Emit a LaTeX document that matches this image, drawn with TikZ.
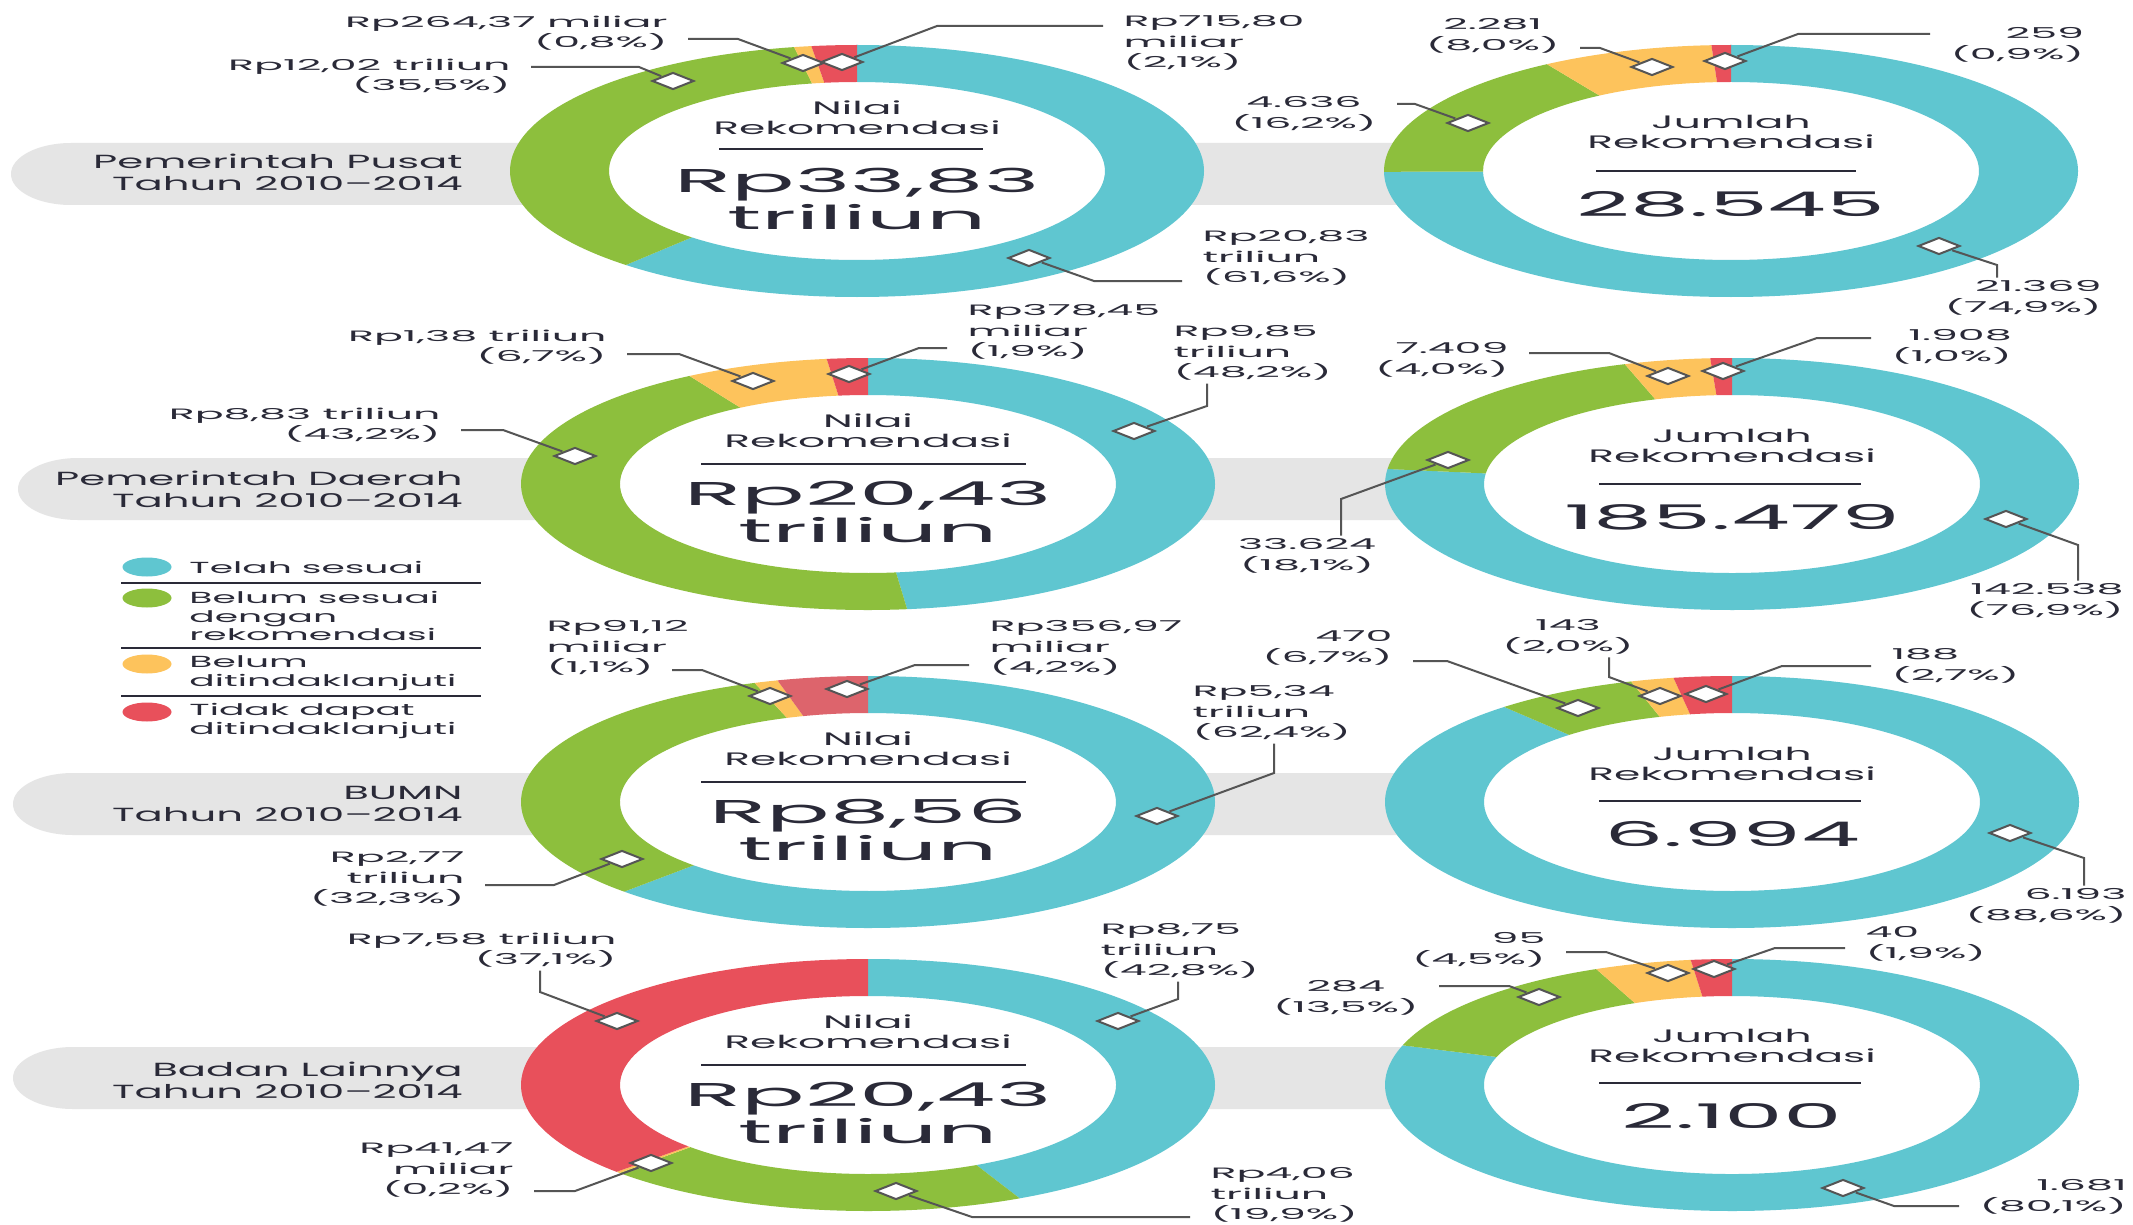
\documentclass[tikz,border=0pt]{standalone}
\usepackage{fontspec}
\setmainfont{Poppins}
\usetikzlibrary{shapes.geometric,calc}

\definecolor{telah}{HTML}{5FC6D0}
\definecolor{belum}{HTML}{8DBF3D}
\definecolor{tindak}{HTML}{FDC35C}
\definecolor{tidak}{HTML}{E8505B}
\definecolor{tidakb}{HTML}{DD646C}
\definecolor{bandc}{HTML}{E5E5E5}
\definecolor{ink}{HTML}{2A2A38}
\definecolor{leadc}{HTML}{555555}

\newcommand{\seg}[4]{%
  \fill[#4] ($(#1)+(#2:347 and 126)$) arc[start angle=#2, end angle=#3, x radius=347, y radius=126]
    -- ($(#1)+(#3:248 and 89)$) arc[start angle=#3, end angle=#2, x radius=248, y radius=89] -- cycle;}
\newcommand{\donut}[6]{%
  \pgfmathsetmacro\aB{-90+3.6*#2}
  \pgfmathsetmacro\aC{\aB+3.6*#3}
  \pgfmathsetmacro\aD{\aC+3.6*#4}
  \seg{#1}{-90}{\aB}{telah}
  \seg{#1}{\aB}{\aC}{belum}
  \seg{#1}{\aC}{\aD}{tindak}
  \seg{#1}{\aD}{270}{#6}}
\newcommand{\rowband}[2]{%
  \fill[bandc] (1420,#1) -- (#2+60,#1) arc[start angle=-90, end angle=-270, x radius=60, y radius=31] -- (1420,#1+62) -- cycle;}

\begin{document}
\begin{tikzpicture}[x=1pt, y=-1pt,
    lab/.style={font=\fontsize{15}{20.5}\selectfont, text=ink, xscale=2.85, inner xsep=7pt, inner ysep=3pt},
    ctr/.style={font=\fontsize{18}{20}\selectfont, text=ink, xscale=2.35, align=center, inner sep=0pt},
    val/.style={font=\fontsize{33}{37}\selectfont, text=ink, xscale=2.85, align=center, inner sep=0pt},
    num/.style={font=\fontsize{34}{37}\selectfont, text=ink, xscale=2.75, inner sep=0pt},
    ttl/.style={font=\fontsize{19}{22}\selectfont, text=ink, xscale=2.2, align=right, inner sep=0pt, anchor=east},
    leg/.style={font=\fontsize{16}{18.5}\selectfont, text=ink, xscale=2.35, align=left, inner sep=0pt, anchor=west},
    dot/.style={ellipse, fill=#1, minimum width=49, minimum height=19, inner sep=0pt},
    tagd/.style={diamond, draw=leadc, fill=white, line width=2pt, minimum width=16, minimum height=17, inner sep=0pt, xscale=2.7},
    lead/.style={draw=leadc, line width=2pt},
    rule/.style={draw=ink, line width=2.5pt}]

  \fill[white] (0,0) rectangle (2133,1225);
  \useasboundingbox (0,0) rectangle (2133,1225);

  \rowband{143}{11}
  \rowband{458}{18}
  \rowband{773}{13}
  \rowband{1047}{13}

  \coordinate (L1) at (857,171);
  \coordinate (R1) at (1731,171);
  \coordinate (L2) at (868,484);
  \coordinate (R2) at (1732,484);
  \coordinate (L3) at (868,802);
  \coordinate (R3) at (1732,802);
  \coordinate (L4) at (868,1085);
  \coordinate (R4) at (1732,1085);

  \fill[white] (L1) ellipse[x radius=248, y radius=89];
  \fill[white] (L2) ellipse[x radius=248, y radius=89];
  \fill[white] (L3) ellipse[x radius=248, y radius=89];
  \fill[white] (L4) ellipse[x radius=248, y radius=89];

  \donut{L1}{61.6}{35.5}{0.8}{2.1}{tidak}
  \donut{R1}{74.9}{16.2}{8.0}{0.9}{tidak}
  \donut{L2}{48.2}{43.2}{6.7}{1.9}{tidak}
  \donut{R2}{76.9}{18.1}{4.0}{1.0}{tidak}
  \donut{L3}{62.4}{32.3}{1.1}{4.2}{tidakb}
  \donut{R3}{88.6}{6.7}{2.0}{2.7}{tidak}
  \donut{L4}{42.8}{19.9}{0.2}{37.1}{tidak}
  \donut{R4}{80.1}{13.5}{4.5}{1.9}{tidak}

  \node[ttl] (tPusat) at (463,172) {Pemerintah Pusat\\Tahun 2010–2014};
  \node[ttl] (tDaerah) at (463,489) {Pemerintah Daerah\\Tahun 2010–2014};
  \node[ttl] (tBumn) at (463,804) {BUMN\\Tahun 2010–2014};
  \node[ttl] (tLain) at (463,1080) {Badan Lainnya\\Tahun 2010–2014};

  \node[ctr] (nL1) at (857,118) {Nilai\\Rekomendasi};
  \draw[rule] (719,149) -- (983,149);
  \node[val] (vL1) at (857,199) {Rp33,83\\triliun};
  \node[ctr] (nL2) at (868,431) {Nilai\\Rekomendasi};
  \draw[rule] (701,464) -- (1026,464);
  \node[val] (vL2) at (868,512) {Rp20,43\\triliun};
  \node[ctr] (nL3) at (868,749) {Nilai\\Rekomendasi};
  \draw[rule] (701,782) -- (1026,782);
  \node[val] (vL3) at (868,830) {Rp8,56\\triliun};
  \node[ctr] (nL4) at (868,1032) {Nilai\\Rekomendasi};
  \draw[rule] (701,1065) -- (1026,1065);
  \node[val] (vL4) at (868,1113) {Rp20,43\\triliun};

  \node[ctr] (nR1) at (1731,132) {Jumlah\\Rekomendasi};
  \draw[rule] (1596,171) -- (1856,171);
  \node[num] (vR1) at (1731,204) {28.545};
  \node[ctr] (nR2) at (1732,446) {Jumlah\\Rekomendasi};
  \draw[rule] (1599,484) -- (1861,484);
  \node[num] (vR2) at (1732,517) {185.479};
  \node[ctr] (nR3) at (1732,764) {Jumlah\\Rekomendasi};
  \draw[rule] (1599,801) -- (1861,801);
  \node[num] (vR3) at (1732,834) {6.994};
  \node[ctr] (nR4) at (1732,1046) {Jumlah\\Rekomendasi};
  \draw[rule] (1599,1083) -- (1861,1083);
  \node[num] (vR4) at (1732,1116) {2.100};

  \node[dot=telah] (dTelah) at (147,567) {};
  \node[leg] (gTelah) at (189,567) {Telah sesuai};
  \draw[rule, line width=2pt] (121,583) -- (481,583);
  \node[dot=belum] (dBelum) at (147,598) {};
  \node[leg] (gBelum) at (189,616) {Belum sesuai\\dengan\\rekomendasi};
  \draw[rule, line width=2pt] (121,648) -- (481,648);
  \node[dot=tindak] (dTindak) at (147,664) {};
  \node[leg] (gTindak) at (189,673) {Belum\\ditindaklanjuti};
  \draw[rule, line width=2pt] (121,696) -- (481,696);
  \node[dot=tidak] (dTidak) at (147,712) {};
  \node[leg] (gTidak) at (189,721) {Tidak dapat\\ditindaklanjuti};

  \node[tagd] (m1) at (673,81) {};
  \coordinate (k1) at (639,67);
  \node[lab, anchor=east, align=right] (l1) at (531,76) {Rp12,02 triliun\\(35,5\%)};
  \draw[lead] (m1) -- (k1) -- (k1 -| l1.east);

  \node[tagd] (m2) at (803,63) {};
  \coordinate (k2) at (738,39);
  \node[lab, anchor=east, align=right] (l2) at (688,33) {Rp264,37 miliar\\(0,8\%)};
  \draw[lead] (m2) -- (k2) -- (k2 -| l2.east);

  \node[tagd] (m3) at (842,62) {};
  \coordinate (k3) at (937,26);
  \node[lab, anchor=west, align=left] (l3) at (1103,43) {Rp715,80\\miliar\\(2,1\%)};
  \draw[lead] (m3) -- (k3) -- (k3 -| l3.west);

  \node[tagd] (m4) at (1029,258) {};
  \coordinate (k4) at (1094,281);
  \node[lab, anchor=west, align=left] (l4) at (1182,258) {Rp20,83\\triliun\\(61,6\%)};
  \draw[lead] (m4) -- (k4) -- (k4 -| l4.west);

  \node[tagd] (m5) at (1468,123) {};
  \coordinate (k5) at (1415,104);
  \node[lab, anchor=east, align=center] (l5) at (1397,114) {4.636\\(16,2\%)};
  \draw[lead] (m5) -- (k5) -- (k5 -| l5.east);

  \node[tagd] (m6) at (1652,67) {};
  \coordinate (k6) at (1600,48);
  \node[lab, anchor=east, align=center] (l6) at (1580,36) {2.281\\(8,0\%)};
  \draw[lead] (m6) -- (k6) -- (k6 -| l6.east);

  \node[tagd] (m7) at (1725,61) {};
  \coordinate (k7) at (1798,34);
  \node[lab, anchor=west, align=right] (l7) at (1930,45) {259\\(0,9\%)};
  \draw[lead] (m7) -- (k7) -- (k7 -| l7.west);

  \node[tagd] (m8) at (1939,246) {};
  \coordinate (k8) at (1997,265);
  \node[lab, anchor=east, align=right] (l8) at (2122,298) {21.369\\(74,9\%)};
  \draw[lead] (m8) -- (k8) -- (k8 |- l8.north);

  \node[tagd] (m9) at (575,456) {};
  \coordinate (k9) at (503,430);
  \node[lab, anchor=east, align=right] (l9) at (461,425) {Rp8,83 triliun\\(43,2\%)};
  \draw[lead] (m9) -- (k9) -- (k9 -| l9.east);

  \node[tagd] (m10) at (753,381) {};
  \coordinate (k10) at (679,354);
  \node[lab, anchor=east, align=right] (l10) at (627,347) {Rp1,38 triliun\\(6,7\%)};
  \draw[lead] (m10) -- (k10) -- (k10 -| l10.east);

  \node[tagd] (m11) at (849,374) {};
  \coordinate (k11) at (919,348);
  \node[lab, anchor=west, align=left] (l11) at (947,332) {Rp378,45\\miliar\\(1,9\%)};
  \draw[lead] (m11) -- (k11) -- (k11 -| l11.west);

  \node[tagd] (m12) at (1134,431) {};
  \coordinate (k12) at (1207,406);
  \node[lab, anchor=west, align=left] (l12) at (1153,353) {Rp9,85\\triliun\\(48,2\%)};
  \draw[lead] (m12) -- (k12) -- (k12 |- l12.south);

  \node[tagd] (m13) at (1448,460) {};
  \coordinate (k13) at (1341,499);
  \node[lab, align=center] (l13) at (1307,556) {33.624\\(18,1\%)};
  \draw[lead] (m13) -- (k13) -- (k13 |- l13.north);

  \node[tagd] (m14) at (1668,376) {};
  \coordinate (k14) at (1609,353);
  \node[lab, anchor=east, align=right] (l14) at (1529,360) {7.409\\(4,0\%)};
  \draw[lead] (m14) -- (k14) -- (k14 -| l14.east);

  \node[tagd] (m15) at (1723,371) {};
  \coordinate (k15) at (1817,338);
  \node[lab, anchor=west, align=right] (l15) at (1871,347) {1.908\\(1,0\%)};
  \draw[lead] (m15) -- (k15) -- (k15 -| l15.west);

  \node[tagd] (m16) at (2006,519) {};
  \coordinate (k16) at (2078,545);
  \node[lab, anchor=east, align=right] (l16) at (2144,601) {142.538\\(76,9\%)};
  \draw[lead] (m16) -- (k16) -- (k16 |- l16.north);

  \node[tagd] (m17) at (770,696) {};
  \coordinate (k17) at (702,670);
  \coordinate (e17) at (672,670);
  \node[lab, anchor=west, align=left] (l17) at (526,648) {Rp91,12\\miliar\\(1,1\%)};
  \draw[lead] (m17) -- (k17) -- (e17);

  \node[tagd] (m18) at (847,689) {};
  \coordinate (k18) at (915,665);
  \node[lab, anchor=west, align=left] (l18) at (969,648) {Rp356,97\\miliar\\(4,2\%)};
  \draw[lead] (m18) -- (k18) -- (k18 -| l18.west);

  \node[tagd] (m19) at (622,859) {};
  \coordinate (k19) at (554,885);
  \node[lab, anchor=east, align=right] (l19) at (485,879) {Rp2,77\\triliun\\(32,3\%)};
  \draw[lead] (m19) -- (k19) -- (k19 -| l19.east);

  \node[tagd] (m20) at (1157,816) {};
  \coordinate (k20) at (1274,773);
  \node[lab, anchor=west, align=left] (l20) at (1172,713) {Rp5,34\\triliun\\(62,4\%)};
  \draw[lead] (m20) -- (k20) -- (k20 |- l20.south);

  \node[tagd] (m21) at (1578,708) {};
  \coordinate (k21) at (1447,661);
  \node[lab, anchor=east, align=right] (l21) at (1413,648) {470\\(6,7\%)};
  \draw[lead] (m21) -- (k21) -- (k21 -| l21.east);

  \node[tagd] (m22) at (1660,696) {};
  \coordinate (k22) at (1609,677);
  \node[lab, align=center] (l22) at (1568,637) {143\\(2,0\%)};
  \draw[lead] (m22) -- (k22) -- (k22 |- l22.south);

  \node[tagd] (m23) at (1706,694) {};
  \coordinate (k23) at (1782,666);
  \node[lab, anchor=west, align=left] (l23) at (1871,666) {188\\(2,7\%)};
  \draw[lead] (m23) -- (k23) -- (k23 -| l23.west);

  \node[tagd] (m24) at (2010,833) {};
  \coordinate (k24) at (2084,858);
  \node[lab, anchor=east, align=right] (l24) at (2147,906) {6.193\\(88,6\%)};
  \draw[lead] (m24) -- (k24) -- (k24 |- l24.north);

  \node[tagd] (m25) at (617,1021) {};
  \coordinate (k25) at (540,992);
  \node[lab, anchor=east, align=right] (l25) at (637,950) {Rp7,58 triliun\\(37,1\%)};
  \draw[lead] (m25) -- (k25) -- (k25 |- l25.south);

  \node[tagd] (m26) at (651,1163) {};
  \coordinate (k26) at (575,1191);
  \node[lab, anchor=east, align=right] (l26) at (534,1170) {Rp41,47\\miliar\\(0,2\%)};
  \draw[lead] (m26) -- (k26) -- (k26 -| l26.east);

  \node[tagd] (m27) at (896,1191) {};
  \coordinate (k27) at (972,1217);
  \node[lab, anchor=west, align=left] (l27) at (1190,1195) {Rp4,06\\triliun\\(19,9\%)};
  \draw[lead] (m27) -- (k27) -- (k27 -| l27.west);

  \node[tagd] (m28) at (1118,1021) {};
  \coordinate (k28) at (1178,999);
  \node[lab, anchor=west, align=left] (l28) at (1080,951) {Rp8,75\\triliun\\(42,8\%)};
  \draw[lead] (m28) -- (k28) -- (k28 |- l28.south);

  \node[tagd] (m29) at (1539,997) {};
  \coordinate (k29) at (1509,986);
  \node[lab, anchor=east, align=center] (l29) at (1439,998) {284\\(13,5\%)};
  \draw[lead] (m29) -- (k29) -- (k29 -| l29.east);

  \node[tagd] (m30) at (1668,973) {};
  \coordinate (k30) at (1606,952);
  \node[lab, anchor=east, align=right] (l30) at (1566,950) {95\\(4,5\%)};
  \draw[lead] (m30) -- (k30) -- (k30 -| l30.east);

  \node[tagd] (m31) at (1714,969) {};
  \coordinate (k31) at (1775,948);
  \node[lab, anchor=west, align=left] (l31) at (1845,944) {40\\(1,9\%)};
  \draw[lead] (m31) -- (k31) -- (k31 -| l31.west);

  \node[tagd] (m32) at (1843,1188) {};
  \coordinate (k32) at (1894,1206);
  \node[lab, anchor=west, align=right] (l32) at (1959,1197) {1.681\\(80,1\%)};
  \draw[lead] (m32) -- (k32) -- (k32 -| l32.west);
\end{tikzpicture}
\end{document}
